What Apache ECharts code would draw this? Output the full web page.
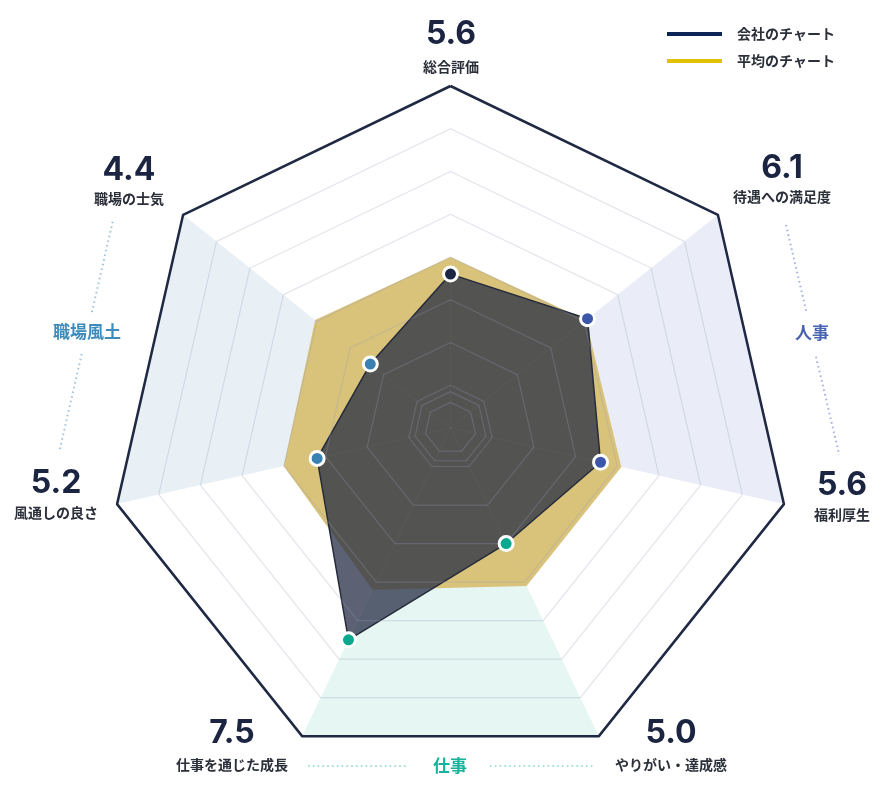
<!DOCTYPE html>
<html><head><meta charset="utf-8">
<script src="https://cdn.jsdelivr.net/npm/echarts@6/dist/echarts.min.js"></script>
<style>html,body{margin:0;padding:0;background:#fff}#c{width:885px;height:789px}</style>
</head><body><div id="c"></div>
<script>
// Indicators in ECharts radar order (counter-clockwise, starting at the top)
const categories = ['総合評価', '職場の士気', '風通しの良さ', '仕事を通じた成長', 'やりがい・達成感', '福利厚生', '待遇への満足度'];
const companyValues = [5.6, 4.4, 5.2, 7.5, 5.0, 5.6, 6.1];
const averageValues = [6.0, 6.05, 6.0, 6.2, 6.1, 6.1, 6.05];
const seriesNames = ['会社のチャート', '平均のチャート'];
const axisMin = 2, axisMax = 10;
const innerRingValues = [2.6, 2.85];
const groupNames = ['職場風土', '仕事', '人事'];
const groupAxes = [[1, 2], [3, 4], [5, 6]];

// ---- styles / layout ----
const FONT_JP = '"Noto Sans CJK JP", "Noto Sans", sans-serif';
const FONT_NUM = 'Inter, "Noto Sans", sans-serif';
const groupFill = ['#e8f0f5', '#e6f6f2', '#eaedf7'];
const groupText = ['#3d8bba', '#16b29b', '#4a63b1'];
const groupDot = ['#a3c4da', '#9fe2d6', '#a5b2dd'];
const pointColors = ['#1c2541', '#3a80b0', '#3a80b0', '#0aa98f', '#0aa98f', '#3c57a9', '#3c57a9'];
// [x, numberY, nameY] for each indicator label block
const labelPos = [[451, 34, 67], [129, 170, 199], [56, 483, 513], [232, 733, 765], [671, 733, 765], [842, 485, 515], [782, 168, 197]];
// group decoration: text position and two dotted segments
const groupDeco = [
  {text: [87, 332], segs: [[112.7, 221.7, 91.7, 313], [81.7, 354, 59.3, 451.7]]},
  {text: [450, 766], segs: [[308, 766, 407, 766], [490, 766, 595, 766]]},
  {text: [812, 333], segs: [[786, 225, 806.7, 313.3], [816, 356.7, 839.3, 455]]}
];
const CX = 450.5, CY = 428, R = 342;
const ringColor = 'rgba(150,158,185,0.28)';

const chart = echarts.init(document.getElementById('c'), null, {renderer: 'canvas'});

const sectorData = groupAxes.map((ax, g) => ({
  value: categories.map((_, k) => (ax.indexOf(k) >= 0 ? axisMax : axisMin)),
  areaStyle: {color: groupFill[g], opacity: 1},
  lineStyle: {width: 0, opacity: 0}
}));

const option = {
  animation: false,
  backgroundColor: '#ffffff',
  legend: {
    orient: 'vertical', left: 662, top: 22, icon: 'rect', itemWidth: 55, itemHeight: 4, itemGap: 13,
    selectedMode: false,
    textStyle: {fontSize: 14, color: '#2b2f3a', fontFamily: FONT_JP, fontWeight: 'bold', padding: [0, 0, 0, 10]},
    data: [
      {name: seriesNames[0], itemStyle: {color: '#0d2554', borderWidth: 0}},
      {name: seriesNames[1], itemStyle: {color: '#e0c200', borderWidth: 0}}
    ]
  },
  radar: {
    center: [CX, CY], radius: R, startAngle: 90, z: 3,
    splitNumber: 8,
    indicator: categories.map(n => ({name: n, min: axisMin, max: axisMax})),
    axisName: {show: false},
    splitLine: {lineStyle: {color: ringColor, width: 1.2}},
    splitArea: {show: false},
    axisLine: {lineStyle: {color: 'rgba(255,255,255,0.03)'}}
  },
  series: [
    {type: 'radar', z: 1, silent: true, symbol: 'none', data: sectorData},
    {type: 'radar', z: 2, silent: true, symbol: 'none', data: [{
      name: seriesNames[1], value: averageValues,
      areaStyle: {color: '#d9c27a', opacity: 1},
      lineStyle: {width: 0, opacity: 0, color: '#e0c200'},
      itemStyle: {color: '#e0c200'}
    }]},
    {type: 'radar', z: 2, silent: true, symbol: 'none', data: [{
      name: seriesNames[0], value: companyValues,
      areaStyle: {color: 'rgba(38,45,68,0.75)', opacity: 1},
      lineStyle: {color: '#262a36', width: 1.5},
      itemStyle: {color: '#0d2554'}
    }]},
    {type: 'radar', z: 4, silent: true, symbol: 'none', data: innerRingValues.map(v => ({
      value: categories.map(() => v), lineStyle: {color: ringColor, width: 1.2}
    })).concat([{
      value: categories.map(() => axisMax), lineStyle: {color: '#1f2944', width: 2.5}
    }])}
  ]
};
chart.setOption(option);

// ---- points and labels placed through the radar coordinate system ----
function toPoint(v, i) {
  try {
    const cs = chart.getModel().getComponent('radar').coordinateSystem;
    if (cs && cs.dataToPoint) return cs.dataToPoint(v, i);
  } catch (e) {}
  const a = Math.PI / 2 + i * 2 * Math.PI / categories.length;
  const r = R * (v - axisMin) / (axisMax - axisMin);
  return [CX + r * Math.cos(a), CY - r * Math.sin(a)];
}

const elements = [];
companyValues.forEach((v, i) => {
  const p = toPoint(v, i);
  elements.push({type: 'circle', z: 20, silent: true, shape: {cx: p[0], cy: p[1], r: 7},
    style: {fill: pointColors[i], stroke: '#ffffff', lineWidth: 3}});
  const lp = labelPos[i];
  elements.push({type: 'text', z: 20, silent: true, x: lp[0], y: lp[1], style: {
    text: v.toFixed(1), align: 'center', verticalAlign: 'middle',
    fontSize: 32, fontWeight: 'bold', fontFamily: FONT_NUM, fill: '#1b2440'}});
  elements.push({type: 'text', z: 20, silent: true, x: lp[0], y: lp[2], style: {
    text: categories[i], align: 'center', verticalAlign: 'middle',
    fontSize: 14, fontWeight: 'bold', fontFamily: FONT_JP, fill: '#2b2f3a'}});
});
groupNames.forEach((g, k) => {
  const d = groupDeco[k];
  elements.push({type: 'text', z: 20, silent: true, x: d.text[0], y: d.text[1], style: {
    text: g, align: 'center', verticalAlign: 'middle',
    fontSize: 17, fontWeight: 'bold', fontFamily: FONT_JP, fill: groupText[k]}});
  d.segs.forEach(s => elements.push({type: 'line', z: 20, silent: true,
    shape: {x1: s[0], y1: s[1], x2: s[2], y2: s[3]},
    style: {stroke: groupDot[k], lineWidth: 2, lineDash: [1.6, 3.2]}}));
});
chart.setOption({graphic: {elements: elements}});
</script>
</body></html>
